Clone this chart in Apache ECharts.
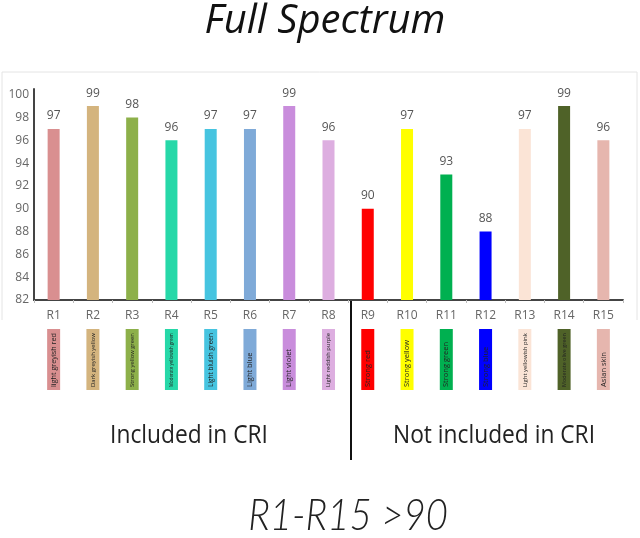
<!DOCTYPE html>
<html>
<head>
<meta charset="utf-8">
<script src="https://cdn.jsdelivr.net/npm/echarts@6/dist/echarts.min.js"></script>
<style>html,body{margin:0;padding:0;background:#fff}#c{width:640px;height:538px}</style>
</head>
<body>
<div id="c"></div>
<script>
var categories = ['R1','R2','R3','R4','R5','R6','R7','R8','R9','R10','R11','R12','R13','R14','R15'];
var values = [97,99,98,96,97,97,99,96,90,97,93,88,97,99,96];
var colorNames = ['light greyish red','Dark greyish yellow','Strong yellow green','Moderate yellowish green','Light bluish green','Light blue','Light violet','Light reddish purple','Strong red','Strong yellow','Strong green','Strong blue','Light yellowish pink','Moderate olive green','Asian skin'];
var barColors = ['#d98f90','#d4b47e','#8db04a','#26d8a8','#46c4e0','#7faad8','#c98ddc','#ddaee0','#ff0000','#ffff00','#00b050','#0000ff','#fbe4d6','#4f6228','#e6b6ae'];
var yTicks = [82,84,86,88,90,92,94,96,98,100];
var groupLabels = ['Included in CRI','Not included in CRI'];
var titleText = 'Full Spectrum';
var footText = 'R1-R15 >90';

var chart = echarts.init(document.getElementById('c'));
var ctx = document.createElement('canvas').getContext('2d');
ctx.font = '10px "Open Sans"';
var swatchData = colorNames.map(function(n, i){
  var w = ctx.measureText(n).width;
  var fs = Math.min(7.5, 10 * 54 / w);
  return {value: 1, itemStyle: {color: barColors[i]}, label: {fontSize: fs}};
});
var option = {
  animation: false,
  backgroundColor: '#fff',
  grid: [
    {left: 34, right: 17, top: 89, height: 211, containLabel: false},
    {left: 34, right: 17, top: 329, height: 61, containLabel: false}
  ],
  xAxis: [
    {type: 'category', gridIndex: 0, data: categories,
     axisLine: {lineStyle: {color: '#444', width: 2}},
     axisTick: {show: true, length: 3, lineStyle: {color: '#bbb'}},
     axisLabel: {color: '#666', fontSize: 12, margin: 10, fontFamily: 'Open Sans'}},
    {type: 'category', gridIndex: 1, data: categories, show: false}
  ],
  yAxis: [
    {type: 'value', gridIndex: 0, min: yTicks[0], max: 100.5, interval: 2,
     splitLine: {show: false},
     axisLine: {show: true, lineStyle: {color: '#444', width: 2}},
     axisTick: {show: false},
     axisLabel: {color: '#666', fontSize: 12, margin: 5, fontFamily: 'Open Sans',
       formatter: function(v){ return yTicks.indexOf(v) >= 0 ? String(v) : ''; }}},
    {type: 'value', gridIndex: 1, min: 0, max: 1, show: false}
  ],
  series: [
    {type: 'bar', xAxisIndex: 0, yAxisIndex: 0, barWidth: 12,
     data: values.map(function(v, i){ return {value: v, itemStyle: {color: barColors[i]}}; }),
     label: {show: true, position: 'top', distance: 7, color: '#555', fontSize: 12, fontFamily: 'Open Sans'}},
    {type: 'bar', xAxisIndex: 1, yAxisIndex: 1, barWidth: 13,
     data: swatchData,
     label: {show: true, position: 'insideBottom', distance: 3, rotate: 90, align: 'left', verticalAlign: 'middle',
       color: '#222', fontFamily: 'Open Sans',
       formatter: function(p){ return colorNames[p.dataIndex]; }}}
  ],
  graphic: [
    {type: 'polyline', silent: true, shape: {points: [[2,320],[2,72],[637,72],[637,320]]}, style: {stroke: '#e4e4e4', lineWidth: 1, fill: null}},
    {type: 'line', silent: true, shape: {x1: 351, y1: 300, x2: 351, y2: 460}, style: {stroke: '#111', lineWidth: 2}},
    {type: 'text', x: 325, y: 22, style: {text: titleText, fontFamily: 'Open Sans', fontStyle: 'italic', fontSize: 40, fill: '#111', align: 'center', verticalAlign: 'middle'}},
    {type: 'text', x: 189, y: 436, scaleX: 0.91, style: {text: groupLabels[0], fontFamily: 'Open Sans', fontSize: 25, fill: '#222', align: 'center', verticalAlign: 'middle'}},
    {type: 'text', x: 494, y: 436, scaleX: 0.91, style: {text: groupLabels[1], fontFamily: 'Open Sans', fontSize: 25, fill: '#222', align: 'center', verticalAlign: 'middle'}},
    {type: 'text', x: 348, y: 516, scaleX: 0.87, style: {text: footText, fontFamily: 'Lato', fontStyle: 'italic', fontWeight: 300, fontSize: 44, fill: '#222', align: 'center', verticalAlign: 'middle'}}
  ]
};
chart.setOption(option);
</script>
</body>
</html>
